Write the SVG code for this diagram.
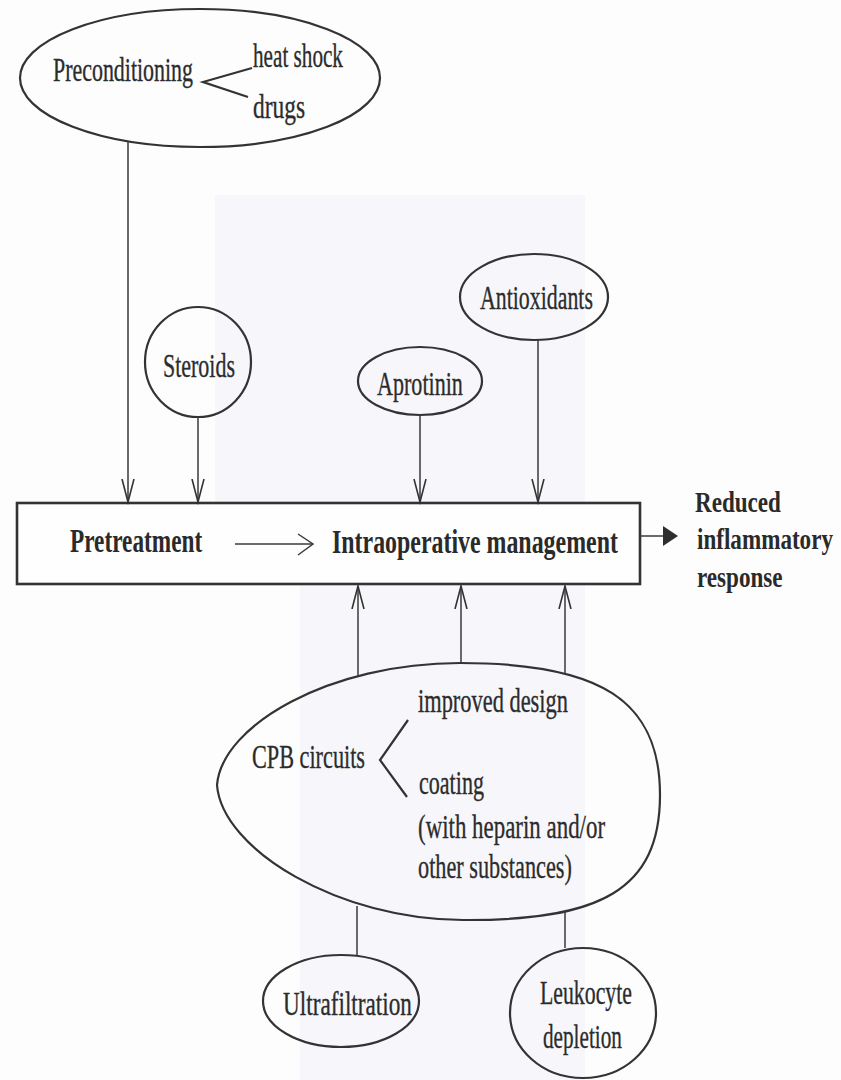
<svg xmlns="http://www.w3.org/2000/svg" width="841" height="1080" viewBox="0 0 841 1080">
<defs>
<style>
.shape{fill:none;stroke:#333;stroke-width:2.2}
.conn{fill:none;stroke:#3a3a3a;stroke-width:1.5}
.t{font-family:"Liberation Serif","Times New Roman",serif;font-size:34px;fill:#2c2c2c;stroke:#2c2c2c;stroke-width:0.35}
.b{font-family:"Liberation Serif","Times New Roman",serif;font-size:33px;font-weight:bold;fill:#2a2a2a}
.r{font-family:"Liberation Serif","Times New Roman",serif;font-size:30px;font-weight:bold;fill:#2a2a2a}
</style>
<marker id="v" markerUnits="userSpaceOnUse" markerWidth="26" markerHeight="16" refX="23" refY="7" orient="auto">
<path d="M0,1 L23,7 L0,13" fill="none" stroke="#333" stroke-width="1.6"/>
</marker>
</defs>
<rect width="841" height="1080" fill="#fdfdfd"/>
<rect x="215" y="195" width="370" height="310" fill="#f7f7fb"/>
<rect x="300" y="585" width="285" height="495" fill="#f7f7fb"/>

<g id="preconditioning">
<ellipse class="shape" cx="200" cy="78" rx="180" ry="69"/>
<text class="t" transform="translate(53,81) scale(0.645,1)">Preconditioning</text>
<polyline class="shape" points="252,68 203,82 248,97"/>
<text class="t" transform="translate(253,67) scale(0.623,1)">heat shock</text>
<text class="t" transform="translate(253,118) scale(0.689,1)">drugs</text>
</g>

<g id="steroids">
<ellipse class="shape" cx="198" cy="362" rx="53" ry="55"/>
<text class="t" transform="translate(163,377) scale(0.646,1)">Steroids</text>
</g>

<g id="aprotinin">
<ellipse class="shape" cx="420" cy="381" rx="62" ry="34"/>
<text class="t" transform="translate(377,395) scale(0.65,1)">Aprotinin</text>
</g>

<g id="antioxidants">
<ellipse class="shape" cx="534" cy="297" rx="74" ry="43"/>
<text class="t" transform="translate(480,309) scale(0.643,1)">Antioxidants</text>
</g>

<g id="management">
<rect x="17" y="503" width="623" height="81" fill="#fefefe" stroke="#333" stroke-width="2.6"/>
<text class="b" transform="translate(70,552) scale(0.705,1)">Pretreatment</text>
<line class="conn" x1="235" y1="544" x2="312" y2="544" stroke-width="2.2"/>
<polyline class="conn" points="298,534 313,544 298,555" stroke-width="2.2"/>
<text class="b" transform="translate(332,553) scale(0.724,1)">Intraoperative management</text>
</g>

<g id="result">
<text class="r" transform="translate(695,0) scale(0.77,1)"><tspan x="0" y="512">Reduced</tspan><tspan x="2.6" y="549">inflammatory</tspan><tspan x="2.6" y="587">response</tspan></text>
</g>

<g id="cpb">
<path class="shape" d="M217,785 C222,725 330,663 460,663 C600,663 660,700 660,795 C660,890 600,921 463,920 C340,920 222,850 217,785 Z"/>
<text class="t" transform="translate(252,768) scale(0.654,1)">CPB circuits</text>
<polyline class="shape" points="408,720 380,760 407,797"/>
<text class="t" transform="translate(418,712) scale(0.659,1)">improved design</text>
<text class="t" transform="translate(419,794) scale(0.649,1)">coating</text>
<text class="t" transform="translate(418,838) scale(0.674,1)">(with heparin and/or</text>
<text class="t" transform="translate(418,878) scale(0.655,1)">other substances)</text>
</g>

<g id="ultrafiltration">
<ellipse class="shape" cx="341" cy="1001" rx="78" ry="46"/>
<text class="t" transform="translate(283,1015) scale(0.683,1)">Ultrafiltration</text>
</g>

<g id="leukocyte">
<ellipse class="shape" cx="583" cy="1013" rx="73" ry="65"/>
<text class="t" transform="translate(540,1004) scale(0.641,1)">Leukocyte</text>
<text class="t" transform="translate(543,1048) scale(0.624,1)">depletion</text>
</g>

<g id="connectors">
<line class="conn" x1="128" y1="141" x2="128" y2="502" marker-end="url(#v)"/>
<line class="conn" x1="198" y1="417" x2="198" y2="502" marker-end="url(#v)"/>
<line class="conn" x1="420" y1="415" x2="420" y2="502" marker-end="url(#v)"/>
<line class="conn" x1="538" y1="340" x2="538" y2="502" marker-end="url(#v)"/>
<line class="conn" x1="358" y1="677" x2="358" y2="586" marker-end="url(#v)"/>
<line class="conn" x1="461" y1="663" x2="461" y2="586" marker-end="url(#v)"/>
<line class="conn" x1="565" y1="674" x2="565" y2="586" marker-end="url(#v)"/>
<line class="conn" x1="640" y1="536" x2="666" y2="536" stroke-width="4"/>
<polygon points="663,526 678,536 663,546" fill="#2e2e2e"/>
<line class="conn" x1="357" y1="906" x2="357" y2="955"/>
<line class="conn" x1="565" y1="912" x2="565" y2="948" stroke="#8a8a8a"/>
</g>
</svg>
